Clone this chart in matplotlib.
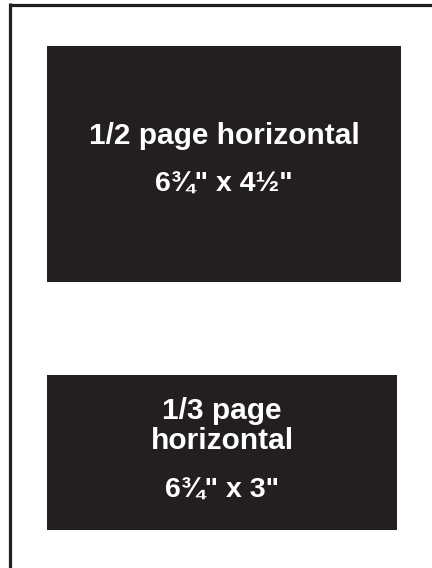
import matplotlib.pyplot as plt
from matplotlib.patches import Rectangle

# ad sizes shown on the page
ad_titles = [['1/2 page horizontal'], ['1/3 page', 'horizontal']]
ad_sizes = ['6\u00be" x 4\u00bd"', '6\u00be" x 3"']

# box extents in pixels: (left, top, right, bottom)
boxes = [(47, 46, 401, 282), (47, 375, 397, 530)]
# text baselines for each box (title lines..., size line)
baselines = [[144, 192], [419, 449, 498]]

dark = '#231f20'

fig = plt.figure(figsize=(4.32, 5.68), dpi=100)
ax = fig.add_axes([0, 0, 1, 1])
ax.set_xlim(0, 432)
ax.set_ylim(568, 0)
ax.axis('off')

# page frame (top and left edges only)
ax.plot([9.5, 432], [4.5, 4.5], color=dark, lw=2.3, solid_capstyle='butt')
ax.plot([9.5, 9.5], [3, 568], color=dark, lw=2.3, solid_capstyle='butt')

for (x0, y0, x1, y1), title, size, bl in zip(boxes, ad_titles, ad_sizes, baselines):
    ax.add_patch(Rectangle((x0, y0), x1 - x0, y1 - y0, facecolor=dark, edgecolor='none'))
    cx = (x0 + x1) / 2
    for line, y in zip(title, bl[:-1]):
        ax.text(cx, y, line, color='white', ha='center', va='baseline',
                fontsize=21.5, fontweight='bold', family='Liberation Sans')
    ax.text(cx, bl[-1], size, color='white', ha='center', va='baseline',
            fontsize=20.5, fontweight='bold', family='Liberation Sans')

fig.savefig('out.png', dpi=100)
